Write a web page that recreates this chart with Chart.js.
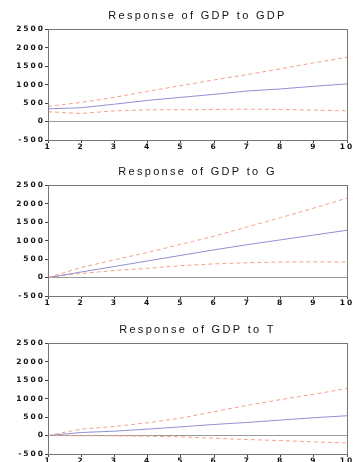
<!DOCTYPE html>
<html>
<head>
<meta charset="utf-8">
<script src="https://cdn.jsdelivr.net/npm/chart.js@4"></script>
<style>
  body { margin: 0; background: #fff; width: 354px; height: 462px; overflow: hidden; position: relative; }
  .panel { position: absolute; left: 0; width: 354px; height: 150px; }
</style>
</head>
<body>
<div class="panel" style="top:1px"><canvas id="c1"></canvas></div>
<div class="panel" style="top:157px"><canvas id="c2"></canvas></div>
<div class="panel" style="top:315px"><canvas id="c3"></canvas></div>
<script>
const periods = ['1', '2', '3', '4', '5', '6', '7', '8', '9', '10'];
const titles = ['Response of GDP to GDP', 'Response of GDP to G', 'Response of GDP to T'];

// Response of GDP to GDP
const gdpResp = [345, 373, 470, 573, 655, 736, 827, 882, 955, 1018];
const gdpUpper = [410, 518, 655, 818, 973, 1127, 1273, 1427, 1590, 1736];
const gdpLower = [264, 218, 290, 318, 318, 327, 336, 327, 309, 290];

// Response of GDP to G
const gResp = [0, 150, 300, 450, 600, 750, 890, 1020, 1150, 1280];
const gUpper = [0, 270, 480, 680, 900, 1120, 1370, 1620, 1880, 2150];
const gLower = [0, 110, 190, 250, 320, 370, 400, 420, 425, 420];

// Response of GDP to T
const tResp = [0, 82, 118, 173, 236, 300, 355, 418, 482, 536];
const tUpper = [0, 173, 245, 345, 473, 645, 818, 973, 1118, 1273];
const tLower = [0, -5, -9, -18, -36, -73, -109, -136, -173, -200];

const yTicks = [-500, 0, 500, 1000, 1500, 2000, 2500];

// wide letter spacing like the original, plus box round the plot area
const boxPlugin = {
  id: 'box',
  beforeDraw(chart) {
    const ctx = chart.ctx;
    ctx.letterSpacing = '2px';
    const tb = chart.titleBlock;
    if (tb && !tb._spaced) {
      const orig = tb.draw;
      tb.draw = function () {
        ctx.letterSpacing = '2.3px';
        orig.apply(this, arguments);
        ctx.letterSpacing = '2px';
      };
      tb._spaced = true;
    }
  },
  afterDraw(chart) {
    const a = chart.chartArea, ctx = chart.ctx;
    ctx.save();
    ctx.strokeStyle = '#777';
    ctx.lineWidth = 1;
    ctx.strokeRect(Math.round(a.left) + 0.5, Math.round(a.top) + 0.5,
      Math.round(a.right - a.left), Math.round(a.bottom - a.top));
    ctx.restore();
  }
};

function makeChart(id, title, resp, upper, lower) {
  new Chart(document.getElementById(id).getContext('2d'), {
    type: 'line',
    data: {
      labels: periods,
      datasets: [{
        data: upper,
        borderColor: '#f4a28c',
        borderWidth: 1,
        borderDash: [4, 3],
        pointRadius: 0,
        tension: 0
      }, {
        data: resp,
        borderColor: '#9090d4',
        borderWidth: 1,
        pointRadius: 0,
        tension: 0
      }, {
        data: lower,
        borderColor: '#f4a28c',
        borderWidth: 1,
        borderDash: [4, 3],
        pointRadius: 0,
        tension: 0
      }]
    },
    options: {
      responsive: true,
      maintainAspectRatio: false,
      animation: false,
      layout: { padding: { left: 0, right: 7, top: 0, bottom: 0 } },
      plugins: {
        legend: { display: false },
        tooltip: { enabled: false },
        title: {
          display: true,
          fullSize: false,
          text: title,
          color: '#111',
          font: { family: 'Liberation Sans', size: 11, weight: 'normal' },
          padding: { top: 8, bottom: 7 }
        }
      },
      scales: {
        x: {
          offset: false,
          grid: { drawOnChartArea: false, tickLength: 3, tickColor: '#444' },
          border: { color: '#777' },
          ticks: {
            color: '#111',
            padding: 0,
            maxRotation: 0,
            autoSkip: false,
            font: { family: 'DejaVu Sans', size: 7.5, weight: 'bold' }
          },
          afterFit: s => { s.height = 11; }
        },
        y: {
          min: -500,
          max: 2500,
          afterBuildTicks: s => { s.ticks = yTicks.map(v => ({ value: v })); },
          grid: {
            color: c => (c.tick && c.tick.value === 0 ? '#999' : 'transparent'),
            tickColor: '#444',
            tickLength: 3
          },
          border: { color: '#777' },
          ticks: {
            color: '#111',
            padding: 0,
            callback: v => String(v),
            font: { family: 'DejaVu Sans', size: 7.5, weight: 'bold' }
          },
          afterFit: s => { s.width = 48; }
        }
      }
    },
    plugins: [boxPlugin]
  });
}

makeChart('c1', titles[0], gdpResp, gdpUpper, gdpLower);
makeChart('c2', titles[1], gResp, gUpper, gLower);
makeChart('c3', titles[2], tResp, tUpper, tLower);
</script>
</body>
</html>
